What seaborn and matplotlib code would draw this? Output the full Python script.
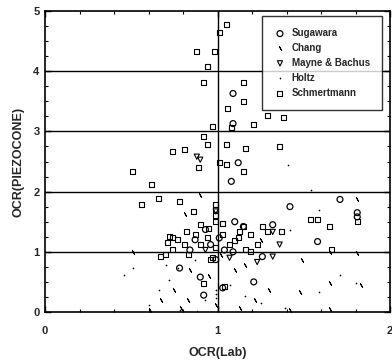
import numpy as np
import pandas as pd
import matplotlib
matplotlib.use("Agg")
import matplotlib.pyplot as plt
import seaborn as sns
from matplotlib.ticker import MultipleLocator

# ---- data ----
sug_x = [1.09, 1.09, 1.12, 1.08, 1.71, 1.42, 1.81, 1.81, 1.58, 1.32, 1.10, 1.15, 1.09,
         1.26, 1.21, 0.78, 0.90, 0.92, 1.03, 0.87, 0.96, 1.01, 0.93, 1.04, 0.84, 0.99]
sug_y = [3.63, 3.13, 2.48, 2.17, 1.87, 1.75, 1.65, 1.58, 1.17, 1.45, 1.50, 1.42, 1.00,
         0.92, 0.50, 0.73, 0.58, 0.28, 0.40, 1.20, 1.12, 1.23, 1.37, 1.03, 1.03, 0.87]

chang_x = [0.51, 0.81, 1.81, 1.81, 1.49, 1.65, 0.83, 0.99, 1.22, 1.30, 1.48, 1.65, 1.83,
           0.75, 0.67, 0.84, 1.10, 1.16, 1.25, 0.90, 0.61, 0.79, 1.13, 1.42, 1.65, 1.02, 0.95]
chang_y = [1.00, 1.62, 1.87, 0.98, 0.87, 1.00, 0.20, 0.12, 0.20, 0.37, 0.33, 0.48, 0.45,
           0.37, 0.20, 0.70, 0.70, 0.78, 1.20, 1.95, 0.03, 0.07, 0.07, 0.03, 0.05, 0.95, 0.60]

mayne_x = [0.90, 0.88, 1.36, 1.32, 0.99, 0.93, 1.07, 1.23, 1.32]
mayne_y = [2.53, 2.58, 1.12, 0.92, 1.67, 1.03, 0.90, 0.83, 1.33]

holtz_x = [0.51, 0.66, 0.72, 0.93, 0.99, 0.99, 0.99, 1.16, 1.39, 1.59, 1.80, 0.60, 0.78,
           1.25, 1.07, 1.71, 0.87, 0.70, 0.46, 1.42, 1.59, 1.54, 1.41, 0.77, 0.88, 1.20]
holtz_y = [0.73, 0.37, 0.53, 0.20, 0.23, 0.30, 0.37, 0.27, 0.07, 0.33, 0.48, 0.12, 0.03,
           0.15, 0.45, 0.62, 0.87, 0.78, 0.62, 1.37, 1.70, 2.03, 2.45, 0.73, 0.02, 0.02]

sch_x = [1.05, 1.01, 0.88, 0.98, 0.94, 0.92, 1.15, 1.15, 1.06, 1.29, 1.38, 1.08, 1.21,
         0.97, 0.92, 0.94, 1.05, 1.16, 1.36, 0.89, 1.01, 1.05, 1.15, 0.74, 0.81, 0.51,
         0.62, 0.66, 0.56, 0.78, 0.86, 0.82, 0.74, 0.71, 0.67,
         0.72, 0.77, 0.81, 0.74, 0.87, 0.90, 0.94, 0.99, 1.03, 1.07, 1.12, 1.16, 1.19,
         1.23, 0.70, 0.83, 0.97, 1.13, 0.90, 0.99, 0.96, 0.92, 1.04, 1.19, 1.26, 1.29,
         1.37, 1.15, 1.65, 1.66, 1.81, 1.54, 1.58, 0.99, 0.99, 0.99, 0.95, 1.03, 1.10]
sch_y = [4.77, 4.65, 4.33, 4.32, 4.08, 3.82, 3.82, 3.50, 3.38, 3.27, 3.23, 3.07, 3.12,
         3.08, 2.92, 2.78, 2.78, 2.72, 2.75, 2.40, 2.48, 2.45, 2.33, 2.67, 2.70, 2.33,
         2.12, 1.88, 1.78, 1.83, 1.67, 1.33, 1.23, 1.15, 0.92,
         1.25, 1.20, 1.12, 1.03, 1.28, 1.12, 1.23, 1.07, 1.28, 1.12, 1.23, 1.03, 1.28,
         1.12, 0.95, 0.95, 0.90, 1.33, 1.45, 1.50, 0.87, 0.48, 0.42, 1.00, 1.42, 1.33,
         1.33, 1.42, 1.42, 1.03, 1.50, 1.53, 1.53, 1.60, 1.70, 1.78, 1.38, 1.47, 1.18]

labels = ["Sugawara", "Chang", "Mayne & Bachus", "Holtz", "Schmertmann"]

# ---- style ----
sns.set_style("ticks")
plt.rcParams["font.family"] = ["Liberation Sans Narrow", "Liberation Sans", "DejaVu Sans"]
plt.rcParams["font.weight"] = "bold"

fig = plt.figure(figsize=(3.92, 3.64), dpi=100)
ax = fig.add_axes([45 / 392, 1 - 312 / 364, 345 / 392, 301 / 364])

# reference lines
for yv in [1, 2, 3, 4]:
    ax.axhline(yv, color="black", lw=1.0, zorder=1)
ax.axvline(1, color="black", lw=1.0, zorder=1)

sns.scatterplot(x=sug_x, y=sug_y, ax=ax, marker="o", s=18, facecolors="none",
                edgecolor="black", linewidth=0.9, label=labels[0], zorder=3)
sns.scatterplot(x=chang_x, y=chang_y, ax=ax, marker=(2, 2, 30), s=10,
                color="black", linewidth=0.7, label=labels[1], zorder=3)
sns.scatterplot(x=mayne_x, y=mayne_y, ax=ax, marker="v", s=14, facecolors="none",
                edgecolor="black", linewidth=0.8, label=labels[2], zorder=3)
sns.scatterplot(x=holtz_x, y=holtz_y, ax=ax, marker=".", s=6,
                color="black", linewidth=0, label=labels[3], zorder=3)
sns.scatterplot(x=sch_x, y=sch_y, ax=ax, marker="s", s=13, facecolors="none",
                edgecolor="black", linewidth=0.8, label=labels[4], zorder=3)

ax.set_xlim(0, 2)
ax.set_ylim(0, 5)
ax.xaxis.set_major_locator(MultipleLocator(1))
ax.yaxis.set_major_locator(MultipleLocator(1))
ax.xaxis.set_minor_locator(MultipleLocator(0.2))
ax.yaxis.set_minor_locator(MultipleLocator(0.25))
ax.tick_params(which="both", direction="in", top=True, right=True, color="black")
ax.tick_params(which="major", length=4, width=1.0, labelsize=8, pad=4)
ax.tick_params(which="minor", length=2, width=0.8)
ax.tick_params(axis="x", pad=10)
for lab in ax.get_xticklabels() + ax.get_yticklabels():
    lab.set_fontweight("bold")
for sp in ax.spines.values():
    sp.set_color("black")
    sp.set_linewidth(1.2)

ax.set_xlabel("OCR(Lab)", fontsize=9, fontweight="bold", labelpad=8)
ax.set_ylabel("OCR(PIEZOCONE)", fontsize=9, fontweight="bold", labelpad=6)

leg = ax.legend(loc="upper right", bbox_to_anchor=(0.985, 0.993), frameon=True,
                fancybox=False, edgecolor="black", fontsize=7, handletextpad=0.6,
                borderpad=1.25, labelspacing=0.5, handlelength=1.2, borderaxespad=0.3)
leg.get_frame().set_linewidth(1.0)
for t in leg.get_texts():
    t.set_fontweight("bold")

fig.savefig("out.png", dpi=100)
